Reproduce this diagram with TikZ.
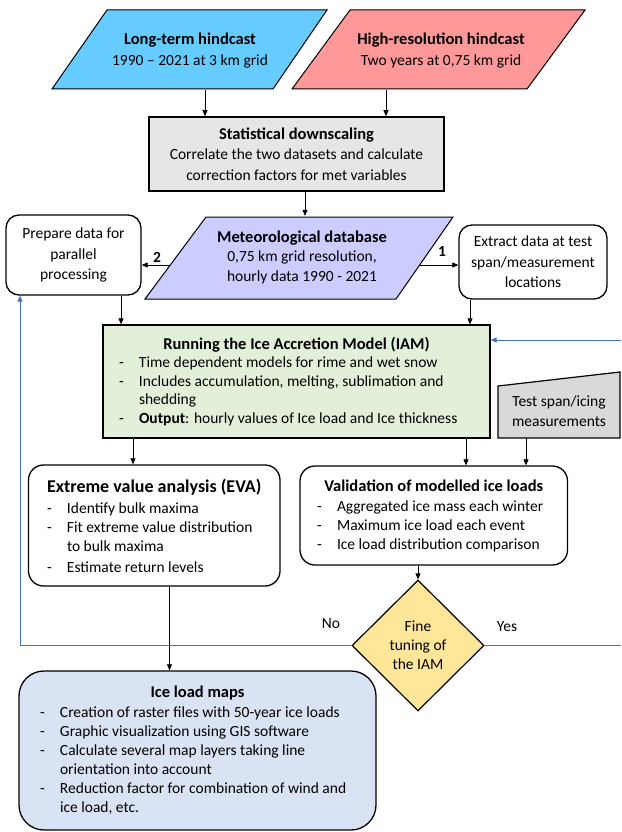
\documentclass[tikz,border=0pt]{standalone}
\usepackage{fontspec}
\setmainfont{Carlito}
\usetikzlibrary{arrows.meta,shapes.geometric}
\definecolor{cLT}{HTML}{66CCFF}
\definecolor{cHR}{HTML}{FF9999}
\definecolor{cMD}{HTML}{CCCCFF}
\definecolor{cSD}{HTML}{E7E6E6}
\definecolor{cIAM}{HTML}{E2F0D9}
\definecolor{cTS}{HTML}{D9D9D9}
\definecolor{cDI}{HTML}{FFE699}
\definecolor{cIL}{HTML}{DAE3F3}
\definecolor{cBL}{HTML}{4472C4}
\newlength\mybulw \setlength\mybulw{20pt}
\newcommand\mybf{\fontsize{16.5}{20.5}\selectfont\bfseries}
\newcommand\myttl[1]{\noindent\makebox[\linewidth]{\mybf #1}\par}
\newcommand\myitm[1]{\noindent\makebox[\mybulw][l]{-}\mbox{#1}\par}
\newcommand\mycnt[1]{\noindent\hspace*{\mybulw}\mbox{#1}\par}
\tikzset{
  every node/.style={font=\fontsize{15.5}{20.5}\selectfont},
  arr/.style={-{Triangle[length=6pt,width=5pt]}, line width=0.7pt},
  barr/.style={-{Triangle[length=6pt,width=5pt]}, line width=0.9pt, draw=cBL},
  pgram/.style={draw, line width=1pt},
  txt/.style={align=center, inner sep=0pt},
  rbox/.style={draw, line width=1.3pt, rounded corners=13pt, inner sep=0pt, align=center},
  lbl/.style={inner sep=0pt},
}
\begin{document}
\begin{tikzpicture}[x=1pt,y=-1pt]
\useasboundingbox (0,0) rectangle (621,832);
% helper coordinates
\coordinate (xa) at (205,0);
\coordinate (xb) at (386,0);
\coordinate (xc) at (305,0);
\coordinate (mdL) at (170,265);
\coordinate (mdR) at (420,265);
\coordinate (xd) at (121,0);
\coordinate (xe) at (470,0);
\coordinate (rin) at (621,340);
\coordinate (xf) at (133,0);
\coordinate (xg) at (466,0);
\coordinate (xh) at (526,0);
\coordinate (xi) at (418,0);
\coordinate (xj) at (20,0);
\coordinate (xk) at (169.5,0);

% top inputs
\draw[pgram, fill=cLT] (107,10) -- (327,10) -- (273,89) -- (52,89) -- cycle;
\node[txt, minimum height=79] (lt) at (190,50.5) {{\mybf Long-term hindcast}\\1990 – 2021 at 3 km grid};
\draw[pgram, fill=cHR] (350,10) -- (585,10) -- (527,89) -- (292,89) -- cycle;
\node[txt, minimum height=79] (hr) at (441,50.5) {{\mybf High-resolution hindcast}\\Two years at 0,75 km grid};

% statistical downscaling
\node[txt, draw, line width=1.6pt, fill=cSD, minimum width=295, minimum height=74] (sd) at (296.5,154)
  {{\mybf Statistical downscaling}\\Correlate the two datasets and calculate\\correction factors for met variables};

% meteorological database
\draw[pgram, fill=cMD] (206,217) -- (453,217) -- (396,299) -- (145,299) -- cycle;
\node[txt, minimum height=82, font=\fontsize{15.5}{19.5}\selectfont] (md) at (302,257)
  {{\mybf Meteorological database}\\0,75 km grid resolution,\\hourly data 1990 - 2021};

\node[rbox, minimum width=135, minimum height=80] (pd) at (73.5,255) {Prepare data for\\parallel\\processing};
\node[rbox, minimum width=148, minimum height=74] (ex) at (533,262) {Extract data at test\\span/measurement\\locations};

% IAM
\node[draw, line width=1.4pt, fill=cIAM, minimum width=387, minimum height=113, inner sep=0pt] (iam) at (296.5,381.5)
  {\begin{minipage}{355pt}\fontsize{15.5}{18.5}\selectfont
  \myttl{Running the Ice Accretion Model (IAM)}\vspace{0pt}
  \myitm{Time dependent models for rime and wet snow}
  \myitm{Includes accumulation, melting, sublimation and}
  \mycnt{shedding}
  \myitm{\textbf{Output}: hourly values of Ice load and Ice thickness}
  \end{minipage}};

% test span measurements
\draw[line width=1.2pt, fill=cTS] (498,386) -- (620,372) -- (620,438) -- (498,438) -- cycle;
\node[txt, minimum height=54] (ts) at (559,411) {Test span/icing\\measurements};

% EVA
\node[rbox, minimum width=251.5, minimum height=121, rounded corners=15pt] (eva) at (154.25,525.5)
  {\begin{minipage}{214.5pt}\fontsize{15.5}{19}\selectfont
  \myttl{\fontsize{18}{19}\selectfont Extreme value analysis (EVA)}\vspace{2pt}
  \myitm{Identify bulk maxima}
  \myitm{Fit extreme value distribution}
  \mycnt{to bulk maxima}\vspace{2pt}
  \myitm{Estimate return levels}
  \end{minipage}};

% validation
\node[rbox, minimum width=267.5, minimum height=99, rounded corners=15pt] (val) at (433.75,515.5)
  {\begin{minipage}{233.5pt}\fontsize{15.5}{19}\selectfont
  \myttl{Validation of modelled ice loads}\vspace{1pt}
  \myitm{Aggregated ice mass each winter}
  \myitm{Maximum ice load each event}
  \myitm{Ice load distribution comparison}
  \end{minipage}};

% decision
\node[diamond, draw, line width=1.2pt, fill=cDI, minimum width=132, minimum height=131, inner sep=0pt, align=center,
  font=\fontsize{15.5}{19}\selectfont] (dia) at (418,645.5) {Fine\\tuning of\\the IAM};
\node[lbl] (lno) at (331,624) {No};
\node[lbl] (lyes) at (507,627) {Yes};

% ice load maps
\node[rbox, fill=cIL, minimum width=357, minimum height=159, rounded corners=25pt] (ilm) at (197.5,750.5)
  {\begin{minipage}{315pt}\fontsize{15.5}{19}\selectfont
  \myttl{Ice load maps}\vspace{1pt}
  \myitm{Creation of raster files with 50-year ice loads}
  \myitm{Graphic visualization using GIS software}
  \myitm{Calculate several map layers taking line}
  \mycnt{orientation into account}
  \myitm{Reduction factor for combination of wind and}
  \mycnt{ice load, etc.}
  \end{minipage}};

% labels on arrows
\node[lbl, anchor=south, font=\fontsize{15.5}{19}\selectfont\bfseries] (l2) at (157,263) {2};
\node[lbl, anchor=south, font=\fontsize{15.5}{19}\selectfont\bfseries] (l1) at (442,257) {1};

% connectors
\draw[arr] (lt.south -| xa) -- (sd.north -| xa);
\draw[arr] (hr.south -| xb) -- (sd.north -| xb);
\draw[arr] (sd.south -| xc) -- (md.north -| xc);
\draw[arr] (mdL) -- (mdL -| pd.east);
\draw[arr] (mdR) -- (mdR -| ex.west);
\draw[arr] (pd.south -| xd) -- (iam.north -| xd);
\draw[arr] (ex.south -| xe) -- (iam.north -| xe);
\draw[barr] (rin) -- (rin -| iam.east);
\draw[arr] (iam.south -| xf) -- (eva.north -| xf);
\draw[arr] (iam.south -| xg) -- (val.north -| xg);
\draw[arr] (ts.south -| xh) -- (val.north -| xh);
\draw[arr] (val.south -| xi) -- (dia.north);
\draw[barr] (dia.west) -- (dia.west -| xj) -- (pd.south -| xj);
\draw[barr, -] (dia.east) -- (dia.east -| rin);
\draw[arr] (eva.south -| xk) -- (ilm.north -| xk);
\end{tikzpicture}
\end{document}
